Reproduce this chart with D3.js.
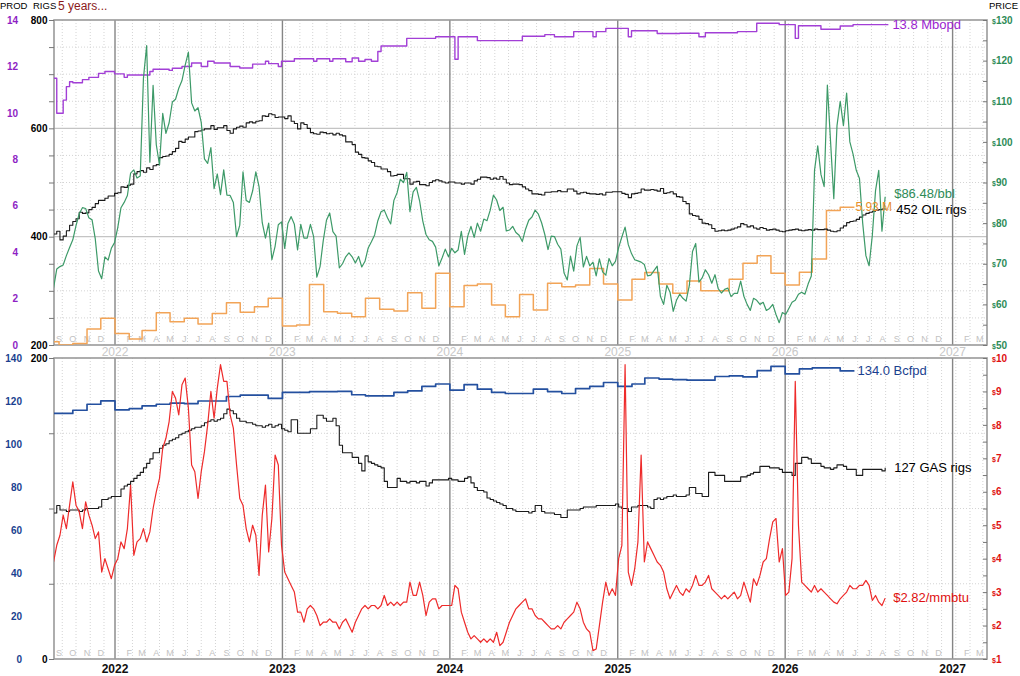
<!DOCTYPE html>
<html>
<head>
<meta charset="utf-8">
<script src="https://cdn.jsdelivr.net/npm/d3@7"></script>
<style>
  body { margin: 0; background: #fff; }
  svg { display: block; }
</style>
</head>
<body>
<svg id="chart" width="1020" height="676"></svg>
<script>
// ---- data ----
// weekly series, one value per Friday starting here
var weekStart = "2021-08-20";

// WTI $/bbl
var oilPrice = [
  64.0, 68.7, 69.3, 69.7, 72.0, 74.0, 75.9, 79.4, 82.3, 83.8, 83.6, 81.3, 80.8, 76.1, 68.2, 66.3, 71.7, 70.9, 73.8, 75.2,
  78.9, 83.8, 85.1, 86.8, 92.3, 93.1, 91.1, 91.6, 115.7, 123.7, 95.0, 113.9, 99.3, 94.3, 107.0, 102.1, 104.7, 109.8, 110.5, 113.2, 115.1, 118.9, 122.1, 109.6, 107.6, 108.4, 104.8, 95.8, 94.7, 98.6, 88.5, 92.1, 87.0, 93.1, 86.9, 86.8, 85.1, 76.7, 79.5, 92.6, 85.6, 85.1, 87.9, 92.6, 89.0, 80.1, 76.3, 80.0, 71.0, 74.3, 79.6, 80.3,
  73.8, 79.9, 81.6, 79.7, 73.4, 79.7, 76.3, 76.3, 79.7, 76.7, 66.7, 69.3, 75.7, 80.7, 82.5, 77.9, 76.8, 69.0, 70.0, 71.7, 72.7, 71.7, 70.2, 71.8, 69.2, 70.6, 73.9, 75.4, 77.1, 80.6, 82.8, 83.2, 81.3, 79.8, 85.6, 87.5, 90.8, 90.0, 92.5, 82.8, 87.7, 88.8, 85.5, 80.5, 77.2, 75.9, 75.5, 74.1, 69.5, 71.4, 73.6, 71.7,
  73.8, 72.7, 73.4, 78.0, 72.3, 76.8, 79.2, 76.5, 80.0, 78.0, 81.0, 80.6, 83.2, 86.9, 85.7, 83.1, 83.9, 78.1, 78.3, 79.2, 77.7, 77.0, 75.5, 78.5, 80.7, 81.5, 83.2, 82.2, 80.1, 77.2, 73.5, 76.8, 76.7, 74.8, 73.6, 67.7, 66.0, 71.9, 68.2, 74.4, 76.5, 69.2, 71.8, 69.5, 70.4, 67.0, 71.2, 68.0, 67.2, 71.3, 69.5, 70.6,
  74.0, 76.6, 79.0, 74.7, 72.5, 71.0, 70.7, 70.4, 69.8, 67.0, 67.2, 68.3, 69.4, 62.0, 60.0, 64.7, 63.0, 58.3, 61.0, 62.5, 61.5, 60.8, 64.6, 73.0, 75.0, 65.5, 66.5, 68.5, 67.3, 65.2, 67.3, 63.9, 62.8, 63.7, 64.0, 61.9, 62.7, 62.7, 65.7, 62.0, 60.0, 58.5, 61.5, 61.0, 60.0, 60.5, 58.5, 59.0, 60.0, 57.5, 55.5, 58.0,
  57.5, 59.0, 60.5, 61.0, 62.5, 63.0, 62.5, 65.0, 67.0, 93.0, 99.0, 92.0, 89.0, 114.0, 100.0, 86.0, 104.0, 110.0, 104.0, 112.0, 100.0, 97.0, 93.0, 91.0, 80.0, 72.0, 69.5, 77.0, 88.0, 93.0, 78.0, 86.48
];

// oil rig count
var oilRigs = [
  405, 410, 394, 401, 411, 421, 428, 433, 445, 443, 444, 450, 454, 461, 467, 467, 471, 475, 475, 480,
  481, 492, 491, 495, 497, 516, 520, 522, 519, 527, 524, 531, 533, 546, 548, 549, 552, 557, 563, 576, 574, 580, 584, 584, 594, 595, 597, 599, 599, 605, 598, 601, 601, 605, 596, 591, 599, 602, 604, 602, 610, 612, 610, 613, 614, 623, 622, 627, 625, 620, 621, 621,
  618, 623, 613, 609, 599, 610, 607, 600, 592, 590, 589, 593, 592, 590, 591, 588, 591, 588, 586, 575, 575, 570, 556, 552, 546, 545, 540, 537, 530, 529, 525, 525, 520, 512, 513, 515, 515, 507, 507, 497, 501, 502, 496, 496, 494, 500, 503, 505, 503, 501, 499, 501,
  501, 499, 499, 497, 499, 499, 497, 503, 506, 510, 510, 509, 506, 508, 506, 511, 506, 499, 496, 497, 497, 496, 492, 488, 485, 479, 479, 478, 477, 482, 482, 483, 483, 485, 483, 483, 488, 488, 484, 479, 481, 482, 480, 479, 479, 478, 479, 477, 482, 482, 483, 483,
  483, 480, 478, 472, 479, 480, 481, 488, 486, 486, 487, 486, 484, 489, 480, 481, 483, 479, 474, 473, 465, 461, 442, 439, 438, 432, 425, 424, 422, 415, 410, 411, 412, 411, 412, 414, 416, 418, 424, 422, 418, 420, 416, 414, 417, 415, 412, 413, 414, 412, 410, 409,
  411, 412, 413, 414, 412, 411, 412, 413, 412, 414, 413, 413, 414, 412, 410, 409, 411, 416, 420, 426, 428, 429, 432, 436, 440, 443, 445, 447, 449, 450, 451, 452
];

// Henry Hub $/mmbtu
var gasPrice = [
  3.9, 4.4, 4.7, 5.3, 4.9, 5.6, 6.3, 5.6, 5.4, 4.9, 5.7, 5.3, 5.0, 4.6, 4.8, 3.6, 4.0, 3.7, 3.4, 3.8,
  4.0, 4.5, 4.3, 4.9, 6.2, 4.1, 4.5, 4.6, 4.9, 4.5, 4.8, 5.5, 6.0, 6.4, 7.3, 7.6, 8.1, 9.0, 8.8, 8.3, 9.2, 9.4, 8.5, 6.8, 6.6, 5.8, 6.6, 7.2, 8.0, 9.0, 8.2, 9.1, 9.8, 9.3, 9.3, 8.3, 7.9, 6.8, 5.8, 5.6, 4.9, 4.5, 5.0, 4.7, 3.5, 5.3, 6.2, 4.2, 5.2, 7.1, 6.8, 4.4,
  3.6, 3.4, 3.2, 3.0, 2.4, 2.4, 2.1, 2.5, 2.6, 2.5, 2.3, 2.0, 2.1, 2.1, 2.2, 2.1, 2.1, 1.9, 2.1, 2.2, 2.0, 1.8, 2.1, 2.3, 2.5, 2.6, 2.5, 2.6, 2.6, 2.5, 2.6, 2.9, 2.6, 2.7, 2.6, 2.7, 2.6, 2.7, 2.7, 3.3, 2.9, 2.9, 3.3, 2.9, 2.3, 2.7, 2.8, 2.8, 2.5, 2.6, 2.6, 2.6,
  2.6, 3.2, 3.1, 2.4, 2.1, 1.8, 1.6, 1.7, 1.6, 1.5, 1.6, 1.5, 1.6, 1.5, 1.8, 1.4, 1.5, 1.8, 2.1, 2.3, 2.5, 2.6, 2.7, 2.8, 2.5, 2.5, 2.3, 2.2, 2.2, 2.1, 2.0, 1.9, 1.9, 2.0, 1.9, 2.1, 2.2, 2.3, 2.4, 2.7, 2.5, 2.1, 1.9, 1.8, 1.25, 1.3, 2.0, 2.7, 3.3, 2.9, 3.1, 2.9,
  4.0, 4.4, 9.8, 3.6, 3.2, 3.7, 4.5, 7.1, 3.9, 4.5, 4.3, 4.1, 3.9, 3.8, 3.6, 3.1, 2.8, 3.0, 3.2, 3.0, 2.9, 3.1, 3.0, 3.2, 3.5, 3.2, 3.2, 3.3, 3.5, 3.1, 3.0, 2.9, 2.8, 2.9, 2.8, 2.9, 3.0, 2.8, 2.9, 3.3, 3.0, 2.7, 3.4, 3.2, 3.5, 3.9, 4.0, 4.6, 5.1, 5.2, 3.9, 4.3,
  2.9, 3.0, 4.0, 9.3, 5.0, 3.3, 3.2, 3.1, 3.0, 3.2, 3.0, 3.1, 3.0, 2.9, 2.8, 2.7, 2.65, 2.8, 2.9, 3.0, 3.2, 3.1, 3.1, 3.2, 3.2, 3.35, 3.2, 2.75, 2.9, 2.7, 2.6, 2.82
];

// gas rig count
var gasRigs = [
  97, 102, 99, 99, 98, 99, 99, 99, 98, 99, 100, 100, 100, 100, 101, 106, 106, 107, 108, 108,
  108, 113, 115, 116, 118, 120, 122, 124, 127, 130, 133, 137, 137, 140, 142, 143, 145, 146, 147, 149, 150, 151, 152, 153, 154, 154, 155, 157, 158, 159, 158, 159, 160, 163, 166, 165, 163, 160, 158, 158, 157, 157, 156, 155, 155, 154, 155, 156, 154, 155, 156, 153,
  152, 151, 159, 159, 150, 150, 150, 150, 153, 153, 162, 162, 160, 158, 158, 160, 155, 142, 137, 137, 137, 134, 134, 130, 125, 135, 131, 130, 129, 128, 127, 118, 114, 114, 114, 120, 118, 118, 117, 118, 118, 117, 118, 118, 115, 117, 119, 119, 119, 119, 119, 120,
  119, 119, 118, 118, 120, 121, 117, 114, 112, 112, 111, 107, 106, 105, 104, 103, 102, 100, 100, 99, 98, 98, 98, 98, 97, 98, 102, 102, 98, 97, 97, 97, 96, 96, 94, 94, 99, 99, 99, 99, 100, 101, 101, 101, 101, 102, 102, 102, 102, 102, 102, 103,
  101, 100, 100, 98, 101, 101, 102, 102, 102, 101, 100, 106, 107, 106, 107, 108, 108, 109, 108, 108, 108, 109, 114, 114, 110, 110, 108, 108, 124, 124, 122, 122, 122, 118, 118, 118, 118, 118, 121, 121, 122, 123, 124, 124, 128, 128, 128, 127, 127, 127, 126, 124,
  124, 124, 122, 130, 130, 134, 134, 133, 130, 130, 130, 128, 127, 127, 126, 127, 129, 129, 128, 126, 126, 126, 122, 122, 126, 126, 126, 126, 126, 126, 125, 127
];

// monthly series, first month here
var monthStart = "2021-08-01";

// orange monthly series (PROD axis, M)
var oilOther = [
  0.14, 0.0, 0.07, 0.69, 1.15,
  0.50, 0.26, 0.62, 1.39, 1.00, 1.15, 0.90, 1.36, 1.82, 1.41, 1.65, 2.01,
  0.82, 0.86, 2.61, 1.43, 1.37, 1.22, 2.01, 1.54, 1.46, 2.25, 1.58, 3.09,
  1.65, 2.56, 2.63, 1.72, 1.22, 2.18, 1.51, 2.66, 2.51, 2.58, 3.30, 2.63,
  1.94, 2.83, 3.12, 2.63, 2.23, 2.76, 2.34, 2.34, 2.83, 3.52, 3.85, 3.09,
  2.59, 3.13, 3.71, 5.79, 5.93
];

// dry gas production, Bcfpd
var gasProd = [
  114.2, 114.2, 115.7, 118.5, 120.1,
  115.9, 116.5, 117.7, 118.5, 119.0, 118.8, 120.0, 120.0, 122.1, 122.7, 122.7, 121.2,
  124.0, 124.0, 124.4, 124.4, 124.5, 122.9, 122.4, 122.4, 124.0, 124.7, 126.8, 127.9,
  125.1, 127.6, 125.5, 124.0, 123.5, 123.5, 125.5, 124.4, 123.5, 125.8, 126.8, 128.6,
  126.8, 127.9, 130.7, 130.2, 129.9, 129.7, 129.7, 131.4, 131.7, 131.2, 134.1, 136.1,
  132.6, 134.9, 135.4, 135.4, 134.0
];

// crude production, Mbopd, as [date it changes, value]
var oilProd = [
  ["2021-08-20", 11.49], ["2021-08-27", 9.98], ["2021-09-10", 10.55], ["2021-09-17", 11.13], ["2021-09-24", 11.34],
  ["2021-10-01", 11.30], ["2021-10-22", 11.43], ["2021-11-05", 11.53], ["2021-11-26", 11.70], ["2021-12-10", 11.78],
  ["2021-12-31", 11.68], ["2022-01-21", 11.53], ["2022-01-28", 11.63], ["2022-03-18", 11.78], ["2022-03-25", 11.88],
  ["2022-04-29", 11.83], ["2022-05-06", 11.92], ["2022-05-27", 12.00], ["2022-06-17", 12.15], ["2022-07-08", 12.00],
  ["2022-07-22", 12.22], ["2022-08-05", 12.15], ["2022-09-09", 12.00], ["2022-09-30", 11.93], ["2022-10-28", 12.10],
  ["2022-11-25", 12.22], ["2022-12-02", 12.12], ["2022-12-23", 12.00], ["2022-12-30", 12.22], ["2023-01-27", 12.33],
  ["2023-03-10", 12.22], ["2023-03-17", 12.33], ["2023-04-14", 12.22], ["2023-04-21", 12.33], ["2023-05-19", 12.20],
  ["2023-06-02", 12.36], ["2023-06-16", 12.22], ["2023-06-30", 12.30], ["2023-07-14", 12.22], ["2023-07-28", 12.64],
  ["2023-08-04", 12.88], ["2023-09-29", 13.21], ["2023-12-01", 13.28], ["2024-01-12", 12.31], ["2024-01-19", 13.28],
  ["2024-03-01", 13.11], ["2024-06-07", 13.30], ["2024-07-26", 13.37], ["2024-08-16", 13.28], ["2024-09-27", 13.50],
  ["2024-11-08", 13.28], ["2024-11-15", 13.50], ["2024-12-06", 13.64], ["2025-01-24", 13.28], ["2025-01-31", 13.54],
  ["2025-03-28", 13.42], ["2025-05-16", 13.43], ["2025-06-27", 13.28], ["2025-07-11", 13.45], ["2025-09-19", 13.50],
  ["2025-10-31", 13.86], ["2025-12-19", 13.80], ["2026-01-23", 13.21], ["2026-01-30", 13.75], ["2026-03-20", 13.60],
  ["2026-05-01", 13.74], ["2026-05-29", 13.80], ["2026-08-14", 13.80]
];

var years = [2022, 2023, 2024, 2025, 2026, 2027];
var monthLetters = ["J", "F", "M", "A", "M", "J", "J", "A", "S", "O", "N", "D"];

// ---- setup ----
var FONT = "'Liberation Sans', Arial, sans-serif";
var parse = d3.timeParse("%Y-%m-%d");
var svg = d3.select("#chart").attr("font-family", FONT);

var left = 54, right = 987;
var p1 = { t: 20, b: 345 }, p2 = { t: 358, b: 659 };

var x = d3.scaleTime()
  .domain([new Date(2021, 7, 21), new Date(2027, 2, 17)])
  .range([left, right]);

var yOilRig = d3.scaleLinear().domain([200, 800]).range([p1.b, p1.t]);
var yOilProd = d3.scaleLinear().domain([0, 14]).range([p1.b, p1.t]);
var yOilPx = d3.scaleLinear().domain([50, 130]).range([p1.b, p1.t]);
var yGasRig = d3.scaleLinear().domain([0, 200]).range([p2.b, p2.t]);
var yGasProd = d3.scaleLinear().domain([0, 140]).range([p2.b, p2.t]);
var yGasPx = d3.scaleLinear().domain([1, 10]).range([p2.b, p2.t]);

function weekly(vals) {
  var s = parse(weekStart);
  return vals.map(function (v, i) { return { d: d3.timeDay.offset(s, 7 * i), v: v }; });
}
function monthly(vals) {
  var s = parse(monthStart);
  var pts = vals.map(function (v, i) { return { d: d3.timeMonth.offset(s, i), v: v }; });
  pts.push({ d: d3.timeMonth.offset(s, vals.length), v: vals[vals.length - 1] });
  return pts;
}
var oilProdPts = oilProd.map(function (p) { return { d: parse(p[0]), v: p[1] }; });

var defs = svg.append("defs");
defs.append("clipPath").attr("id", "clip1").append("rect")
  .attr("x", left).attr("y", p1.t).attr("width", right - left).attr("height", p1.b - p1.t);
defs.append("clipPath").attr("id", "clip2").append("rect")
  .attr("x", left).attr("y", p2.t).attr("width", right - left).attr("height", p2.b - p2.t);

var months = d3.timeMonth.range(new Date(2021, 7, 1), new Date(2027, 3, 1));

// grid for one panel
function grid(p, yRig, rigVals, solidVals) {
  var g = svg.append("g");
  g.selectAll("line.mv")
    .data(months.map(function (m) { return d3.timeDay.offset(m, 7); })
      .filter(function (d) { return x(d) > left + 1 && x(d) < right - 1; }))
    .join("line").attr("class", "mv")
    .attr("x1", function (d) { return x(d); }).attr("x2", function (d) { return x(d); })
    .attr("y1", p.t).attr("y2", p.b)
    .attr("stroke", "#d4d4d4").attr("stroke-dasharray", "1,2");
  g.selectAll("line.hg").data(rigVals)
    .join("line").attr("class", "hg")
    .attr("x1", left).attr("x2", right)
    .attr("y1", function (d) { return yRig(d); }).attr("y2", function (d) { return yRig(d); })
    .attr("stroke", function (d) { return solidVals.indexOf(d) >= 0 ? "#c4c4c4" : "#d4d4d4"; })
    .attr("stroke-width", function (d) { return solidVals.indexOf(d) >= 0 ? 1.3 : 1; })
    .attr("stroke-dasharray", function (d) { return solidVals.indexOf(d) >= 0 ? null : "1,2"; });
  // month letters
  g.selectAll("text.ml")
    .data(months.filter(function (m) { return m.getMonth() !== 0 && x(m) > left + 2 && x(m) < right - 2; }))
    .join("text").attr("class", "ml")
    .attr("x", function (d) { return x(d); }).attr("y", p.b - 3)
    .attr("text-anchor", "middle").attr("font-size", 9).attr("fill", "#c2c2c2")
    .text(function (d) { return monthLetters[d.getMonth()]; });
  // year lines
  g.selectAll("line.yl").data(years)
    .join("line").attr("class", "yl")
    .attr("x1", function (d) { return x(new Date(d, 0, 1)); }).attr("x2", function (d) { return x(new Date(d, 0, 1)); })
    .attr("y1", p.t).attr("y2", p.b)
    .attr("stroke", "#858585").attr("stroke-width", 1.4);
  // frame
  g.append("rect").attr("x", left).attr("y", p.t)
    .attr("width", right - left).attr("height", p.b - p.t)
    .attr("fill", "none").attr("stroke", "#9a9a9a").attr("stroke-width", 1.6);
}

grid(p1, yOilRig, d3.range(250, 800, 50), [400, 600]);
grid(p2, yGasRig, d3.range(50, 200, 50), []);

// ---- axes ----
function styleAxis(g, color, size) {
  g.select(".domain").remove();
  g.selectAll("text").attr("fill", color).attr("font-size", size)
    .attr("font-weight", "bold").attr("font-family", FONT);
  g.selectAll(".tick line").attr("stroke", "#777");
}

var ax;
ax = svg.append("g").attr("transform", "translate(" + left + ",0)")
  .call(d3.axisLeft(yOilProd).tickValues(d3.range(0, 15, 2)).tickSize(0).tickPadding(left - 18));
styleAxis(ax, "#8e1fc4", 10);
ax = svg.append("g").attr("transform", "translate(" + left + ",0)")
  .call(d3.axisLeft(yOilRig).tickValues(d3.range(200, 801, 50)).tickSize(5).tickPadding(1.5)
    .tickFormat(function (d) { return d % 200 === 0 ? d : ""; }));
styleAxis(ax, "#000", 10);
ax = svg.append("g").attr("transform", "translate(" + left + ",0)")
  .call(d3.axisLeft(yGasProd).tickValues(d3.range(0, 141, 20)).tickSize(0).tickPadding(left - 22));
styleAxis(ax, "#1a3f8f", 10);
ax = svg.append("g").attr("transform", "translate(" + left + ",0)")
  .call(d3.axisLeft(yGasRig).tickValues(d3.range(0, 201, 50)).tickSize(5).tickPadding(1.5)
    .tickFormat(function (d) { return (d === 0 || d === 200) ? d : ""; }));
styleAxis(ax, "#000", 10);

function priceAxis(y, vals, isLabel, color) {
  var g = svg.append("g").attr("transform", "translate(" + right + ",0)")
    .call(d3.axisRight(y).tickValues(vals).tickSizeInner(-4).tickSizeOuter(0).tickPadding(5)
      .tickFormat(function (d) { return isLabel(d) ? String(d) : ""; }));
  styleAxis(g, color, 10);
  g.selectAll(".tick text").each(function (d) {
    if (!isLabel(d)) return;
    var t = d3.select(this).text("");
    t.append("tspan").attr("font-size", 7).text("$");
    t.append("tspan").text(d);
  });
}
priceAxis(yOilPx, d3.range(50, 131, 5), function (d) { return d % 10 === 0; }, "#2e8b57");
priceAxis(yGasPx, d3.range(1, 10.01, 0.5), function (d) { return d % 1 === 0; }, "#e01010");

// year labels
svg.append("g").selectAll("text").data(years).join("text")
  .attr("x", function (d) { return x(new Date(d, 0, 1)); }).attr("y", 356)
  .attr("text-anchor", "middle").attr("font-size", 12).attr("fill", "#c8c8c8")
  .text(function (d) { return d; });
svg.append("g").selectAll("text").data(years).join("text")
  .attr("x", function (d) { return x(new Date(d, 0, 1)); }).attr("y", 673)
  .attr("text-anchor", "middle").attr("font-size", 12).attr("font-weight", "bold").attr("fill", "#111")
  .text(function (d) { return d; });

// header texts
svg.append("text").attr("x", 0).attr("y", 9).attr("font-size", 9.5).text("PROD");
svg.append("text").attr("x", 33).attr("y", 9).attr("font-size", 9.5).text("RIGS");
svg.append("text").attr("x", 58).attr("y", 10).attr("font-size", 12).attr("fill", "#8b1a1a").text("5 years...");
svg.append("text").attr("x", 1018).attr("y", 9).attr("font-size", 9.5).attr("text-anchor", "end").text("PRICE");

// ---- series ----
function drawLine(clip, pts, y, color, width, curve) {
  svg.append("path").attr("clip-path", "url(#" + clip + ")")
    .datum(pts)
    .attr("fill", "none").attr("stroke", color).attr("stroke-width", width)
    .attr("stroke-linejoin", "round")
    .attr("d", d3.line().x(function (d) { return x(d.d); }).y(function (d) { return y(d.v); }).curve(curve));
}

var orangePts = monthly(oilOther);
var oilRigPts = weekly(oilRigs);
var oilPxPts = weekly(oilPrice);
drawLine("clip1", orangePts, yOilProd, "#f2a457", 1.5, d3.curveStepAfter);
drawLine("clip1", oilRigPts, yOilRig, "#1a1a1a", 1.1, d3.curveStepAfter);
drawLine("clip1", oilProdPts, yOilProd, "#a23fd6", 1.4, d3.curveStepAfter);
drawLine("clip1", oilPxPts, yOilPx, "#3d9a68", 1.2, d3.curveLinear);

var gasProdPts = monthly(gasProd);
var gasRigPts = weekly(gasRigs);
var gasPxPts = weekly(gasPrice);
drawLine("clip2", gasProdPts, yGasProd, "#24509f", 1.7, d3.curveStepAfter);
drawLine("clip2", gasRigPts, yGasRig, "#1a1a1a", 1.1, d3.curveStepAfter);
drawLine("clip2", gasPxPts, yGasPx, "#ee2b2b", 1.2, d3.curveLinear);

// end labels
function endLabel(pts, y, dx, dy, color, txt, size) {
  var last = pts[pts.length - 1];
  svg.append("text").attr("x", x(last.d) + dx).attr("y", y(last.v) + dy)
    .attr("font-size", size || 13).attr("fill", color).text(txt);
}
endLabel(oilProdPts, yOilProd, 4, 4, "#9b1fd0", oilProdPts[oilProdPts.length - 1].v.toFixed(1) + " Mbopd");
endLabel(orangePts, yOilProd, 1, 4, "#e8902a", oilOther[oilOther.length - 1].toFixed(2) + " M", 12);
endLabel(oilPxPts, yOilPx, 9, 1, "#2e8b57", "$" + oilPrice[oilPrice.length - 1].toFixed(2) + "/bbl");
endLabel(oilRigPts, yOilRig, 11, 5.5, "#000", oilRigs[oilRigs.length - 1] + " OIL rigs");
endLabel(gasProdPts, yGasProd, 3, 4, "#1a3f8f", gasProd[gasProd.length - 1].toFixed(1) + " Bcfpd");
endLabel(gasRigPts, yGasRig, 9, 4, "#000", gasRigs[gasRigs.length - 1] + " GAS rigs");
endLabel(gasPxPts, yGasPx, 8, 4, "#e01010", "$" + gasPrice[gasPrice.length - 1].toFixed(2) + "/mmbtu");
</script>
</body>
</html>
